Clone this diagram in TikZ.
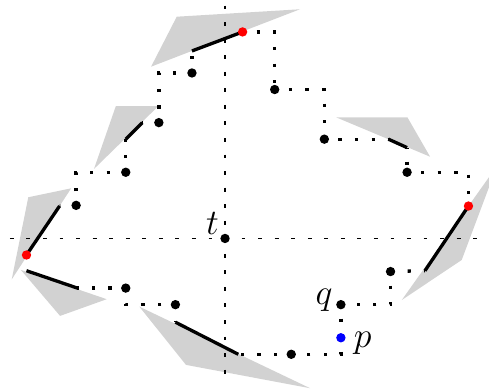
\RequirePackage{fix-cm}
\documentclass[tikz,border=0pt]{standalone}
\usetikzlibrary{positioning}

\begin{document}
\begin{tikzpicture}[x=3mm, y=3mm]
    % Define the styles for the walk
    \tikzset{
        dotpt/.style={circle, fill=black, minimum size=1.7mm, inner sep=0pt},
        redpt/.style={dotpt, fill=red},
        bluept/.style={dotpt, fill=blue},
        walk/.style={line width=0.6mm, dash pattern=on 0.6mm off 2.4mm, dash phase=0.45mm},
        chord/.style={line width=0.6mm},
        cone/.style={fill=gray!35, draw=none},
        guide/.style={line width=0.65pt, dash pattern=on 0.7mm off 2.3mm},
        tag/.style={inner sep=0pt, font=\fontsize{18.5}{22}\selectfont}
    }

    \useasboundingbox (-13.6,-9.15) rectangle (15.95,14.41);
    \clip (-13.6,-9.15) rectangle (15.95,14.41);

    % Points of the walk
    \coordinate (t) at (0,0);
    \coordinate (rt) at (1.06,12.48);
    \coordinate (rr) at (14.71,1.96);
    \coordinate (rl) at (-12,-1);
    \coordinate (q) at (7,-4);
    \coordinate (p) at (7,-6);
    \coordinate (v1) at (3,9);
    \coordinate (v2) at (6,6);
    \coordinate (v3) at (11,4);
    \coordinate (v4) at (10,-2);
    \coordinate (v5) at (4,-7);
    \coordinate (v6) at (-3,-4);
    \coordinate (v7) at (-6,-3);
    \coordinate (v8) at (-9,2);
    \coordinate (v9) at (-6,4);
    \coordinate (v10) at (-4,7);
    \coordinate (v11) at (-2,10);

    % Ends of the solid pieces
    \coordinate (a3) at (9.87,6);
    \coordinate (b3) at (11,5.49);
    \coordinate (b4) at (12.08,-1.95);
    \coordinate (a5) at (0.8,-7);
    \coordinate (b5) at (-3,-5.06);
    \coordinate (a7) at (-8.92,-3);
    \coordinate (b7) at (-12,-1.95);
    \coordinate (b8) at (-10,1.96);
    \coordinate (a9) at (-6,6);
    \coordinate (b9) at (-5,7);
    \coordinate (a11) at (-2,11.33);

    % Ends of the axes through t
    \coordinate (hl) at (-13,0);
    \coordinate (hr) at (15.3,0);
    \coordinate (vt) at (0,14.07);
    \coordinate (vb) at (0,-8.85);

    % Draw the gray cones
    \fill[cone] (-2.92,13.4) -- (4.53,13.85) -- (-4.47,10.38) -- cycle;
    \fill[cone] (-6.6,8) -- (-4.03,8) -- (-7.92,4.2) -- cycle;
    \fill[cone] (-11.89,2.49) -- (-9.3,3.03) -- (-12.89,-2.47) -- cycle;
    \fill[cone] (-12.34,-1.9) -- (-7.15,-3.67) -- (-9.97,-4.68) -- cycle;
    \fill[cone] (-5.18,-4.12) -- (-2.36,-7.64) -- (5.14,-9.05) -- cycle;
    \fill[cone] (10.68,-3.72) -- (14.3,-1.3) -- (16.43,4.38) -- cycle;
    \fill[cone] (6.71,7.32) -- (11.02,7.32) -- (12.39,4.94) -- cycle;

    % Draw the axes
    \draw[guide] (hl) -- (hr);
    \draw[guide] (vt) -- (vb);

    % Draw the walk
    \draw[walk] (rt) -| (v1);
    \draw[walk] (v1) -| (v2);
    \draw[walk] (v2) -- (a3);
    \draw[chord] (a3) -- (b3);
    \draw[walk] (b3) -- (v3);
    \draw[walk] (v3) -| (rr);
    \draw[chord] (rr) -- (b4);
    \draw[walk] (b4) -- (v4);
    \draw[walk] (v4) |- (q);
    \draw[walk] (q) -- (p);
    \draw[walk] (p) |- (v5);
    \draw[walk] (v5) -- (a5);
    \draw[chord] (a5) -- (b5);
    \draw[walk] (b5) -- (v6);
    \draw[walk] (v6) -| (v7);
    \draw[walk] (v7) -- (a7);
    \draw[chord] (a7) -- (b7);
    \draw[chord] (rl) -- (b8);
    \draw[walk] (b8) -- (v8);
    \draw[walk] (v8) |- (v9);
    \draw[walk] (v9) -- (a9);
    \draw[chord] (a9) -- (b9);
    \draw[walk] (b9) -- (v10);
    \draw[walk] (v10) |- (v11);
    \draw[walk] (v11) -- (a11);
    \draw[chord] (a11) -- (rt);

    % Draw the points
    \node[dotpt] (tdot) at (t) {};
    \node[dotpt] (qdot) at (q) {};
    \node[bluept] (pdot) at (p) {};
    \node[redpt] (rtdot) at (rt) {};
    \node[redpt] (rrdot) at (rr) {};
    \node[redpt] (rldot) at (rl) {};
    \node[dotpt] (v1dot) at (v1) {};
    \node[dotpt] (v2dot) at (v2) {};
    \node[dotpt] (v3dot) at (v3) {};
    \node[dotpt] (v4dot) at (v4) {};
    \node[dotpt] (v5dot) at (v5) {};
    \node[dotpt] (v6dot) at (v6) {};
    \node[dotpt] (v7dot) at (v7) {};
    \node[dotpt] (v8dot) at (v8) {};
    \node[dotpt] (v9dot) at (v9) {};
    \node[dotpt] (v10dot) at (v10) {};
    \node[dotpt] (v11dot) at (v11) {};

    % Labels
    \node[tag, anchor=base east] (tlabel) at ([xshift=-3pt, yshift=2.2pt]t) {$t$};
    \node[tag, anchor=base east] (qlabel) at ([xshift=-4.2pt]q) {$q$};
    \node[tag, anchor=base west] (plabel) at ([xshift=6.5pt, yshift=-5.2pt]p) {$p$};
\end{tikzpicture}
\end{document}
